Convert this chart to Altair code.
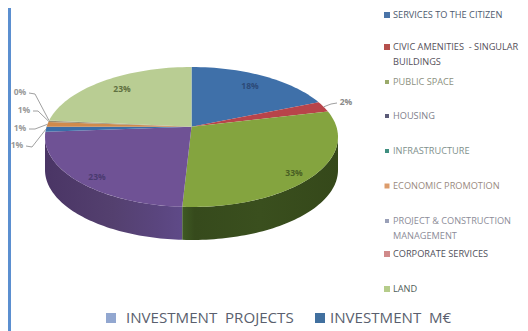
import math
import altair as alt
import pandas as pd

categories = ["SERVICES TO THE CITIZEN", "CIVIC AMENITIES\u00a0 - SINGULAR|BUILDINGS", "PUBLIC SPACE", "HOUSING",
              "INFRASTRUCTURE", "ECONOMIC PROMOTION", "PROJECT & CONSTRUCTION|MANAGEMENT",
              "CORPORATE SERVICES", "LAND"]
shares = [18.0, 2.8, 30.2, 23.0, 1.0, 1.3, 0.3, 0.1, 23.3]
labels = ["18%", "2%", "33%", "23%", "1%", "1%", "1%", "0%", "23%"]
slice_colors = ["#3f70a9", "#b8444a", "#84a43f", "#6f5295", "#3a6ea8", "#cf8a4c", "#9a8f70", "#a89a80", "#b9cd93"]
legend_colors = ["#4a74a8", "#b5504c", "#9aaa6a", "#5b5b78", "#3f8f80", "#dc9c6c", "#9aa0b8", "#d08a8a", "#b5cc8a"]
bottom_names = ["INVESTMENT\u00a0\u00a0PROJECTS", "INVESTMENT\u00a0\u00a0M€"]
bottom_colors = ["#92a7d0", "#41709f"]

# layout (reference pixel coordinates, mapped by the x/y scales)
CX, CY, RX, RY = 191.5, 137.0, 146.5, 70.0
AX, AY = 191.5, 126.7
DEPTH = 33.0
label_xy = [(250, 86), (346, 102), (294, 173), (97, 177), (17, 145), (20, 128), (24, 110), (20, 92), (122, 89)]
knee_xy = {1: (331, 104), 4: (32, 147), 5: (35, 129), 6: (38, 111), 7: (35, 94)}
legend_y = [15, 47, 82, 116, 151, 186, 221, 254, 289]
legend_size = [6, 6, 4, 4, 4, 5, 4, 6, 6]
legend_text = ["#4d5a6e", "#55505a", "#8c9080", "#80808c", "#80908c", "#9a8a80", "#8c8c98", "#50505a", "#50605a"]

X = alt.X("x:Q", scale=alt.Scale(domain=[8, 520]), axis=None)
Y = alt.Y("y:Q", scale=alt.Scale(domain=[331, 8]), axis=None)


def rim(frac):
    """Point on the elliptical rim at a cumulative share, seen from the off-centre apex."""
    th = 2 * math.pi * frac
    s, c = math.sin(th), math.cos(th)
    dx, dy = 146.5 * s, -(60.0 if c > 0 else 80.0) * c
    ex, ey = (AX - CX) / RX, (AY - CY) / RY
    a = (dx / RX) ** 2 + (dy / RY) ** 2
    b = 2 * (ex * dx / RX + ey * dy / RY)
    cc = ex * ex + ey * ey - 1
    t = (-b + math.sqrt(b * b - 4 * a * cc)) / (2 * a)
    return AX + t * dx, AY + t * dy


def polygon(points, fill):
    df = pd.DataFrame([{"x": p[0], "y": p[1], "o": i} for i, p in enumerate(points)])
    return alt.Chart(df).mark_line(fill=fill, interpolate="linear-closed", clip=False, strokeWidth=0).encode(
        x=X, y=Y, order="o:Q")


layers = []
total = sum(shares)
cum = [sum(shares[:i]) / total for i in range(len(shares) + 1)]


def ellipse_pt(deg, dy=0.0):
    t = math.radians(deg)
    return CX + RX * math.cos(t), CY + RY * math.sin(t) + dy


split = rim(cum[3])
split_deg = math.degrees(math.atan2((split[1] - CY) / RY, (split[0] - CX) / RX))


def wall(a0, a1, fill):
    n = 60
    deg = [a0 + (a1 - a0) * i / n for i in range(n + 1)]
    return polygon([ellipse_pt(d) for d in deg] + [ellipse_pt(d, DEPTH) for d in reversed(deg)], fill)


def grad(stops):
    return alt.Gradient(gradient="linear", x1=0, x2=1, y1=0, y2=0,
                        stops=[alt.GradientStop(offset=o, color=c) for o, c in stops])


layers.append(wall(split_deg, 180, grad([(0, "#4a3565"), (0.5, "#54406f"), (0.85, "#5b4680"), (1, "#5f4a88")])))
layers.append(wall(0, split_deg, grad([(0, "#3f5a24"), (0.08, "#364a1c"), (0.5, "#3a4f1e"), (1, "#35481a")])))

for i, col in enumerate(slice_colors):
    n = max(2, int(shares[i] * 2))
    arc = [rim(cum[i] + (cum[i + 1] - cum[i]) * k / n) for k in range(n + 1)]
    layers.append(polygon([(AX, AY)] + arc, col))

lead = []
for i, (kx, ky) in knee_xy.items():
    lx, ly = label_xy[i]
    rx, ry = rim((cum[i] + cum[i + 1]) / 2)
    start = lx + (9 if i != 1 else -9)
    for o, (px, py) in enumerate([(start, ly + 1), (kx, ky), (rx, ry)]):
        lead.append({"x": px, "y": py, "o": o, "g": i})
layers.append(alt.Chart(pd.DataFrame(lead)).mark_line(color="#a0a0a0", strokeWidth=1, clip=False).encode(
    x=X, y=Y, order="o:Q", detail="g:N"))

lab = pd.DataFrame([{"x": p[0], "y": p[1], "t": t, "c": c} for p, t, c in zip(
    label_xy, labels,
    ["#2c4a78", "#888888", "#4a6024", "#4a3a70", "#999999", "#999999", "#999999", "#999999", "#5f7040"])])
layers.append(alt.Chart(lab).mark_text(fontSize=8.5, font="Open Sans", fontWeight="bold", clip=False).encode(
    x=X, y=Y, text="t:N", color=alt.Color("c:N", scale=None)))

sw, txt = [], []
for name, y, col, sz, tc in zip(categories, legend_y, legend_colors, legend_size, legend_text):
    sw.append({"x": 387, "y": y, "c": col, "s": sz * sz})
    for k, part in enumerate(name.split("|")):
        txt.append({"x": 393, "y": y + k * 15, "t": part, "c": tc})
layers.append(alt.Chart(pd.DataFrame(sw)).mark_square(opacity=1, clip=False).encode(
    x=X, y=Y, size=alt.Size("s:Q", scale=None), color=alt.Color("c:N", scale=None)))
layers.append(alt.Chart(pd.DataFrame(txt)).mark_text(align="left", fontSize=9.2, font="Open Sans", clip=False).encode(
    x=X, y=Y, text="t:N", color=alt.Color("c:N", scale=None)))

bsw = pd.DataFrame([{"x": 111, "y": 318, "c": bottom_colors[0]}, {"x": 320, "y": 318, "c": bottom_colors[1]}])
layers.append(alt.Chart(bsw).mark_square(size=100, opacity=1, clip=False).encode(
    x=X, y=Y, color=alt.Color("c:N", scale=None)))
btx = pd.DataFrame([{"x": 126, "y": 318, "t": bottom_names[0]}, {"x": 330, "y": 318, "t": bottom_names[1]}])
layers.append(alt.Chart(btx).mark_text(align="left", fontSize=15.1, font="Open Sans", color="#5a5f6e", clip=False).encode(
    x=X, y=Y, text="t:N"))

border = pd.DataFrame([{"x": 9.5, "y": 8, "y2": 331}])
layers.append(alt.Chart(border).mark_rule(color="#5b8fd0", strokeWidth=3, clip=False).encode(
    x=X, y=Y, y2="y2:Q"))

chart = alt.layer(*layers).properties(
    width=512, height=323, padding=0, autosize=alt.AutoSizeParams(type="none"), background="white"
).configure_view(stroke=None)

chart.save("out.html", embed_options={"renderer": "svg", "actions": False})
